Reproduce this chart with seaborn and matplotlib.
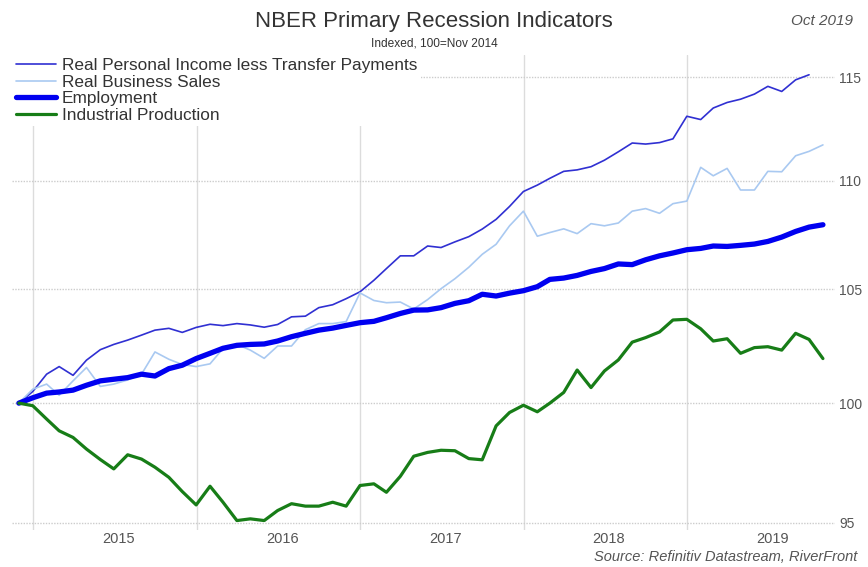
import pandas as pd
import numpy as np
import matplotlib
matplotlib.use("Agg")
import matplotlib.pyplot as plt
import matplotlib.dates as mdates
from matplotlib.ticker import FixedLocator, FixedFormatter, NullLocator
import seaborn as sns

# monthly index, 100 = Nov 2014 (month-end dates, Nov 2014 .. Oct 2019)
dates = pd.date_range("2014-12-01", periods=60, freq="MS") - pd.Timedelta(days=1)

income = [100.0, 100.5, 101.25, 101.58, 101.2, 101.86, 102.32, 102.55, 102.74, 102.96,
          103.18, 103.26, 103.08, 103.3, 103.44, 103.38, 103.47, 103.41, 103.31, 103.43,
          103.77, 103.8, 104.18, 104.31, 104.58, 104.89, 105.41, 105.94, 106.52, 106.52,
          106.97, 106.9, 107.16, 107.4, 107.75, 108.2, 108.8, 109.5, 109.8, 110.12,
          110.45, 110.52, 110.67, 110.98, 111.38, 111.8, 111.75, 111.82, 112.0, 113.09,
          112.93, 113.49, 113.76, 113.92, 114.17, 114.55, 114.3, 114.87, 115.12, np.nan]

sales = [100.0, 100.6, 100.82, 100.34, 100.96, 101.54, 100.72, 100.82, 101.0, 101.25,
         102.22, 101.9, 101.67, 101.58, 101.7, 102.37, 102.55, 102.3, 101.94, 102.48,
         102.48, 103.2, 103.47, 103.47, 103.56, 104.84, 104.5, 104.4, 104.43, 104.12,
         104.54, 105.03, 105.48, 106.0, 106.59, 107.05, 107.9, 108.58, 107.42, 107.59,
         107.76, 107.54, 108.0, 107.9, 108.03, 108.58, 108.7, 108.48, 108.93, 109.05,
         110.64, 110.24, 110.59, 109.57, 109.57, 110.45, 110.43, 111.19, 111.4, 111.71]

employment = [100.0, 100.23, 100.43, 100.48, 100.56, 100.77, 100.96, 101.03, 101.1, 101.25,
              101.17, 101.49, 101.64, 101.93, 102.16, 102.38, 102.51, 102.55, 102.57, 102.7,
              102.89, 103.04, 103.18, 103.27, 103.39, 103.51, 103.57, 103.73, 103.92, 104.07,
              104.08, 104.18, 104.37, 104.49, 104.78, 104.7, 104.83, 104.94, 105.12, 105.45,
              105.51, 105.63, 105.81, 105.94, 106.15, 106.12, 106.34, 106.52, 106.65, 106.8,
              106.86, 106.97, 106.95, 107.0, 107.06, 107.18, 107.38, 107.64, 107.84, 107.95]

industrial = [100.0, 99.89, 99.32, 98.82, 98.54, 98.05, 97.61, 97.22, 97.81, 97.63,
              97.29, 96.87, 96.28, 95.73, 96.5, 95.84, 95.09, 95.16, 95.09, 95.5,
              95.78, 95.68, 95.68, 95.84, 95.68, 96.53, 96.6, 96.25, 96.91, 97.75,
              97.91, 98.0, 97.98, 97.65, 97.6, 99.03, 99.6, 99.91, 99.63, 100.0,
              100.46, 101.43, 100.67, 101.39, 101.87, 102.65, 102.85, 103.1, 103.63, 103.66,
              103.24, 102.7, 102.8, 102.16, 102.41, 102.45, 102.3, 103.04, 102.77, 101.93]

series_names = ["Real Personal Income less Transfer Payments", "Real Business Sales",
                "Employment", "Industrial Production"]
y_ticks = [95, 100, 105, 110, 115]
year_labels = ["2015", "2016", "2017", "2018", "2019"]

df = pd.DataFrame({"date": dates, series_names[0]: income, series_names[1]: sales,
                   series_names[2]: employment, series_names[3]: industrial})

sns.set_style("white")
plt.rcParams["font.family"] = ["Liberation Sans", "DejaVu Sans"]

styles = {
    series_names[0]: dict(color="#3030d2", lw=1.2),
    series_names[1]: dict(color="#a9c9f1", lw=1.2),
    series_names[2]: dict(color="#0000f0", lw=3.8),
    series_names[3]: dict(color="#177d17", lw=2.3),
}

fig = plt.figure(figsize=(8.68, 5.67), dpi=100)
ax = fig.add_axes([0.014, 0.065, 0.948, 0.838])

for name in series_names:
    sns.lineplot(data=df, x="date", y=name, ax=ax, label=name,
                 color=styles[name]["color"], linewidth=styles[name]["lw"])

ax.set_yscale("log")
ax.set_ylim(94.7, 116.1)
ax.set_xlim(pd.Timestamp("2014-11-15"), pd.Timestamp("2019-11-27"))

ax.yaxis.set_major_locator(FixedLocator(y_ticks))
ax.yaxis.set_major_formatter(FixedFormatter([str(t) for t in y_ticks]))
ax.yaxis.set_minor_locator(NullLocator())
ax.yaxis.tick_right()
ax.tick_params(axis="y", length=0, pad=3, labelsize=10, labelcolor="#555555")

year_starts = [pd.Timestamp(f"{y}-01-01") for y in range(2015, 2020)]
mid_years = [pd.Timestamp(f"{y}-07-10") for y in range(2015, 2020)]
ax.xaxis.set_major_locator(FixedLocator(mdates.date2num(year_starts)))
ax.xaxis.set_major_formatter(FixedFormatter([""] * 5))
ax.xaxis.set_minor_locator(FixedLocator(mdates.date2num(mid_years)))
ax.xaxis.set_minor_formatter(FixedFormatter(year_labels))
ax.tick_params(axis="x", which="both", length=0, pad=1.5, labelsize=10.5, labelcolor="#555555")

ax.grid(axis="x", which="major", color="#dcdcdc", lw=1, ls="-")
ax.grid(axis="y", which="major", color="#cccccc", lw=1, ls=(0, (1, 1)))
ax.set_axisbelow(True)
for s in ax.spines.values():
    s.set_visible(False)
ax.set_xlabel("")
ax.set_ylabel("")

leg = ax.legend(loc="upper left", bbox_to_anchor=(0.0, 1.0), frameon=True, fancybox=False,
                framealpha=1, facecolor="white", edgecolor="none", fontsize=12.4,
                handlelength=2.35, handletextpad=0.35, labelspacing=0.08, borderpad=0.2,
                borderaxespad=0.0)
for t in leg.get_texts():
    t.set_color("#333333")

fig.text(0.5, 0.962, "NBER Primary Recession Indicators", ha="center", va="center",
         fontsize=16, color="#333333")
fig.text(0.5, 0.924, "Indexed, 100=Nov 2014", ha="center", va="center",
         fontsize=8.6, color="#333333")
fig.text(0.983, 0.963, "Oct 2019", ha="right", va="center", fontsize=11,
         style="italic", color="#555555")
fig.text(0.988, 0.006, "Source: Refinitiv Datastream, RiverFront", ha="right", va="bottom",
         fontsize=10.5, style="italic", color="#555555")

fig.savefig("out.png", dpi=100)
